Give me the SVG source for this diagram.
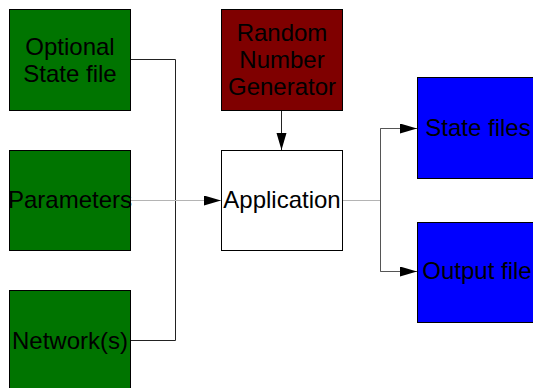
<svg xmlns="http://www.w3.org/2000/svg" width="533" height="388" viewBox="0 0 533 388">
  <style>
    .box { stroke: #000; stroke-width: 1; }
    .input { fill: #007400; }
    .rng { fill: #7f0000; }
    .app { fill: #ffffff; }
    .out { fill: #0000ff; }
    .label { font-family: "Liberation Sans", Arial, sans-serif; font-size: 24px; fill: #000; text-anchor: middle; }
    .wire { fill: none; stroke-width: 1; }
    .dark { stroke: #222; }
    .light { stroke: #b4b4b4; }
    .mid { stroke: #555; }
  </style>
  <defs>
    <marker id="arrow" markerUnits="userSpaceOnUse" markerWidth="18" markerHeight="12" refX="17" refY="5" orient="auto">
      <path d="M0,0 L17,5 L0,10 Z" fill="#000"/>
    </marker>
  </defs>

  <rect width="533" height="388" fill="#ffffff"/>

  <!-- connectors -->
  <g id="connectors">
    <path class="wire dark" d="M130.5,59.5 H175.5 V340.5 H130.5"/>
    <path class="wire light" d="M130.5,200.5 H221" marker-end="url(#arrow)"/>
    <path class="wire dark" d="M281.5,110.5 V150" marker-end="url(#arrow)"/>
    <path class="wire light" d="M342.5,200.5 H380.5"/>
    <path class="wire mid" d="M417,128.5 H380.5 V271.5 H417"/>
    <path class="wire mid" d="M380.5,128.5 H417" marker-end="url(#arrow)"/>
    <path class="wire mid" d="M380.5,271.5 H417" marker-end="url(#arrow)"/>
  </g>

  <g id="optional-state-file">
    <rect class="box input" x="9.5" y="9.5" width="121" height="101"/>
    <text class="label" x="70" y="54.5">Optional</text>
    <text class="label" x="70" y="81.5">State file</text>
  </g>

  <g id="parameters">
    <rect class="box input" x="9.5" y="150.5" width="121" height="100"/>
    <text class="label" x="70" y="207.5">Parameters</text>
  </g>

  <g id="networks">
    <rect class="box input" x="9.5" y="290.5" width="121" height="100"/>
    <text class="label" x="70" y="348.5">Network(s)</text>
  </g>

  <g id="random-number-generator">
    <rect class="box rng" x="221.5" y="9.5" width="121" height="101"/>
    <text class="label" x="282" y="41">Random</text>
    <text class="label" x="282" y="68">Number</text>
    <text class="label" x="282" y="95">Generator</text>
  </g>

  <g id="application">
    <rect class="box app" x="221.5" y="150.5" width="121" height="100"/>
    <text class="label" x="282" y="207.5">Application</text>
  </g>

  <g id="state-files">
    <rect class="box out" x="417.5" y="77.5" width="121" height="101"/>
    <text class="label" x="478" y="136">State files</text>
  </g>

  <g id="output-file">
    <rect class="box out" x="417.5" y="222.5" width="121" height="100"/>
    <text class="label" x="477" y="279">Output file</text>
  </g>
</svg>
